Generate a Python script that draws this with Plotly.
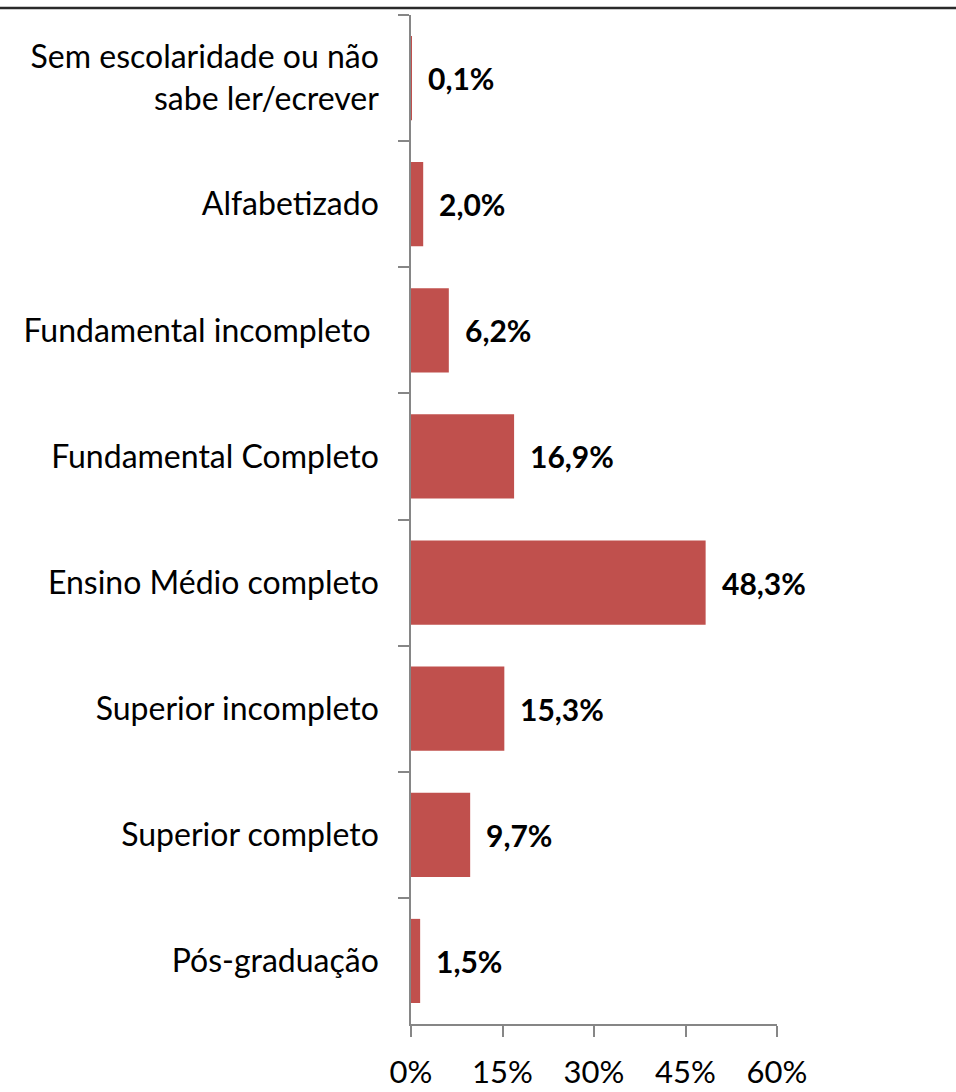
import plotly.graph_objects as go

# Escolaridade dos respondentes (% do total)
categorias = [
    "Sem escolaridade ou não<br>sabe ler/ecrever",
    "Alfabetizado",
    "Fundamental incompleto ",
    "Fundamental Completo",
    "Ensino Médio completo",
    "Superior incompleto",
    "Superior completo",
    "Pós-graduação",
]
percentuais = [0.1, 2.0, 6.2, 16.9, 48.3, 15.3, 9.7, 1.5]
rotulos = ["0,1%", "2,0%", "6,2%", "16,9%", "48,3%", "15,3%", "9,7%", "1,5%"]
ticks_x = [0, 15, 30, 45, 60]
ticks_x_texto = ["0%", "15%", "30%", "45%", "60%"]

FONTE = "Lato, 'Open Sans', sans-serif"
COR_BARRA = "#C0504D"
COR_EIXO = "#868686"

fig = go.Figure()
fig.add_trace(go.Bar(
    x=percentuais,
    y=categorias,
    orientation="h",
    marker=dict(color=COR_BARRA, line=dict(width=0)),
    hoverinfo="skip",
))

# Rótulos de valor à direita de cada barra
for cat, val, txt in zip(categorias, percentuais, rotulos):
    fig.add_annotation(
        x=val, y=cat, text="<b>" + txt + "</b>",
        xanchor="left", yanchor="middle", xshift=14,
        showarrow=False,
        font=dict(family=FONTE, size=30, color="#000000"),
    )

# Linha de borda no topo
fig.add_shape(
    type="line", xref="paper", yref="paper",
    x0=-1.2, x1=1.6, y0=1.0069, y1=1.0069,
    line=dict(color="#2a2a2a", width=2.5),
)

fig.update_layout(
    width=956, height=1092,
    margin=dict(l=411, r=179, t=15, b=68),
    paper_bgcolor="white",
    plot_bgcolor="white",
    bargap=0.333,
    showlegend=False,
    font=dict(family=FONTE, color="#000000"),
)
fig.update_xaxes(
    range=[0, 60],
    tickvals=ticks_x,
    ticktext=ticks_x_texto,
    showgrid=False, zeroline=False,
    showline=True, linecolor=COR_EIXO, linewidth=1.5,
    ticks="outside", ticklen=11, tickwidth=1.5, tickcolor=COR_EIXO,
    tickfont=dict(family=FONTE, size=31, color="#000000"),
    ticklabelstandoff=9,
    automargin=False,
    fixedrange=True,
)
fig.update_yaxes(
    categoryorder="array",
    categoryarray=categorias,
    autorange="reversed",
    showgrid=False, zeroline=False,
    showline=True, linecolor=COR_EIXO, linewidth=1.5,
    ticks="outside", ticklen=11, tickwidth=1.5, tickcolor=COR_EIXO,
    tickson="boundaries",
    tickfont=dict(family=FONTE, size=32, color="#000000"),
    ticklabelstandoff=24,
    automargin=False,
    fixedrange=True,
)

fig.write_html("out.html", config={"displayModeBar": False})
